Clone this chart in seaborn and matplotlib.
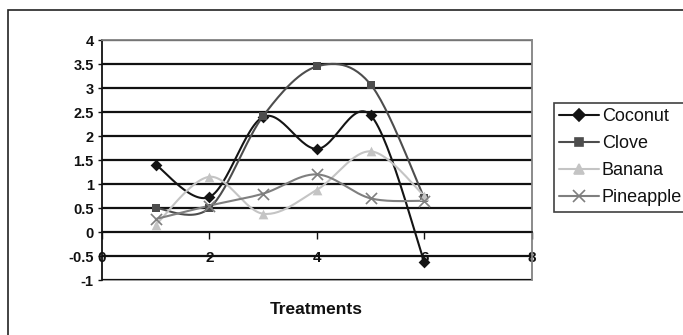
import numpy as np
import pandas as pd
import matplotlib
matplotlib.use("Agg")
import matplotlib.pyplot as plt
from matplotlib.patches import Rectangle
import seaborn as sns

# Treatment numbers and measured response for each additive
treatments = [1, 2, 3, 4, 5, 6]
coconut = [1.40, 0.73, 2.40, 1.73, 2.43, -0.63]
clove = [0.50, 0.50, 2.42, 3.45, 3.07, 0.70]
banana = [0.15, 1.15, 0.38, 0.88, 1.68, 0.75]
pineapple = [0.27, 0.55, 0.80, 1.20, 0.70, 0.65]

series_names = ["Coconut", "Clove", "Banana", "Pineapple"]
series_values = [coconut, clove, banana, pineapple]
colors = ["#141414", "#4d4d4d", "#c4c4c4", "#7f7f7f"]
markers = ["D", "s", "^", "x"]
marker_sizes = [6, 6, 7, 8]

y_ticks = [4, 3.5, 3, 2.5, 2, 1.5, 1, 0.5, 0, -0.5, -1]
y_tick_labels = ["4", "3.5", "3", "2.5", "2", "1.5", "1", "0.5", "0", "-0.5", "-1"]
x_ticks = [0, 2, 4, 6, 8]
x_tick_labels = ["0", "2", "4", "6", "8"]


def smooth_path(x, y, steps=30):
    """Cubic Bezier smoothing through every point (Catmull-Rom tangents)."""
    x = np.asarray(x, float)
    y = np.asarray(y, float)
    px = np.concatenate([[x[0]], x, [x[-1]]])
    py = np.concatenate([[y[0]], y, [y[-1]]])
    t = np.linspace(0, 1, steps)[:, None]
    xs, ys = [], []
    for i in range(1, len(px) - 2):
        p0 = np.array([px[i], py[i]])
        p3 = np.array([px[i + 1], py[i + 1]])
        p1 = p0 + (np.array([px[i + 1], py[i + 1]]) - np.array([px[i - 1], py[i - 1]])) / 6
        p2 = p3 - (np.array([px[i + 2], py[i + 2]]) - np.array([px[i], py[i]])) / 6
        seg = ((1 - t) ** 3) * p0 + 3 * ((1 - t) ** 2) * t * p1 + 3 * (1 - t) * t ** 2 * p2 + t ** 3 * p3
        xs.append(seg[:, 0])
        ys.append(seg[:, 1])
    return np.concatenate(xs), np.concatenate(ys)


sns.set_theme(style="white")
plt.rcParams["font.family"] = ["Liberation Sans", "DejaVu Sans"]

fig = plt.figure(figsize=(6.83, 3.35), dpi=100)
fig.patch.set_facecolor("white")
# outer chart frame
fig.add_artist(Rectangle((8 / 683, -0.05), 1.0, 1 - 10 / 335 + 0.05,
                         transform=fig.transFigure, fill=False,
                         edgecolor="#222222", linewidth=1.2))

ax = fig.add_axes([102 / 683, 1 - 280 / 335, (532 - 102) / 683, (280 - 40) / 335])

for yv in y_ticks:
    ax.axhline(yv, color="#111111", linewidth=1.6, zorder=1)

for name, vals, col, mk, ms in zip(series_names, series_values, colors, markers, marker_sizes):
    sx, sy = smooth_path(treatments, vals)
    ax.plot(sx, sy, color=col, linewidth=1.5, zorder=3)
    pts = pd.DataFrame({"Treatment": treatments, "Value": vals})
    if mk == "x":
        sns.scatterplot(data=pts, x="Treatment", y="Value", marker=mk, color=col,
                        s=ms ** 2, linewidth=1.2, ax=ax, zorder=4)
    else:
        sns.scatterplot(data=pts, x="Treatment", y="Value", marker=mk, color=col,
                        s=ms ** 2, linewidth=0, ax=ax, zorder=4)

ax.set_xlim(0, 8)
ax.set_ylim(-1, 4)

# legend handles with line + marker
handles = [plt.Line2D([0], [0], color=c, marker=m, markersize=ms, linewidth=1.5,
                      markeredgewidth=1.2)
           for c, m, ms in zip(colors, markers, marker_sizes)]
leg = fig.legend(handles, series_names, loc="upper left",
                 bbox_to_anchor=(554 / 683, 1 - 103 / 335),
                 frameon=True, fancybox=False, fontsize=13,
                 handlelength=2.2, handletextpad=0.15, labelspacing=0.55,
                 borderpad=0.3, borderaxespad=0)
leg.get_frame().set_edgecolor("#111111")
leg.get_frame().set_linewidth(1.2)
for txt in leg.get_texts():
    txt.set_color("#111111")

for side in ["top", "right", "bottom", "left"]:
    ax.spines[side].set_color("#8a8a8a")
    ax.spines[side].set_linewidth(1.2)
ax.spines["left"].set_color("#111111")
ax.spines["bottom"].set_position(("data", 0))
ax.spines["bottom"].set_color("#111111")
ax.add_patch(Rectangle((0, 0), 1, 1, transform=ax.transAxes, fill=False,
                       edgecolor="#8a8a8a", linewidth=1.2, zorder=0.5, clip_on=False))

ax.set_yticks(y_ticks)
ax.set_yticklabels(y_tick_labels, fontweight="bold")
ax.set_xticks(x_ticks)
ax.set_xticklabels(x_tick_labels, fontweight="bold")
ax.tick_params(axis="y", direction="out", length=3, width=1, pad=3,
               labelsize=10.5, colors="#111111", left=True)
ax.tick_params(axis="x", direction="out", length=5, width=1, pad=9,
               labelsize=11, colors="#111111", bottom=True)

ax.set_xlabel("")
ax.set_ylabel("")
fig.text(316 / 683, 1 - 310 / 335, "Treatments", ha="center", va="center",
         fontsize=12.5, fontweight="bold", color="#111111")

fig.savefig("out.png", dpi=100, facecolor="white")
